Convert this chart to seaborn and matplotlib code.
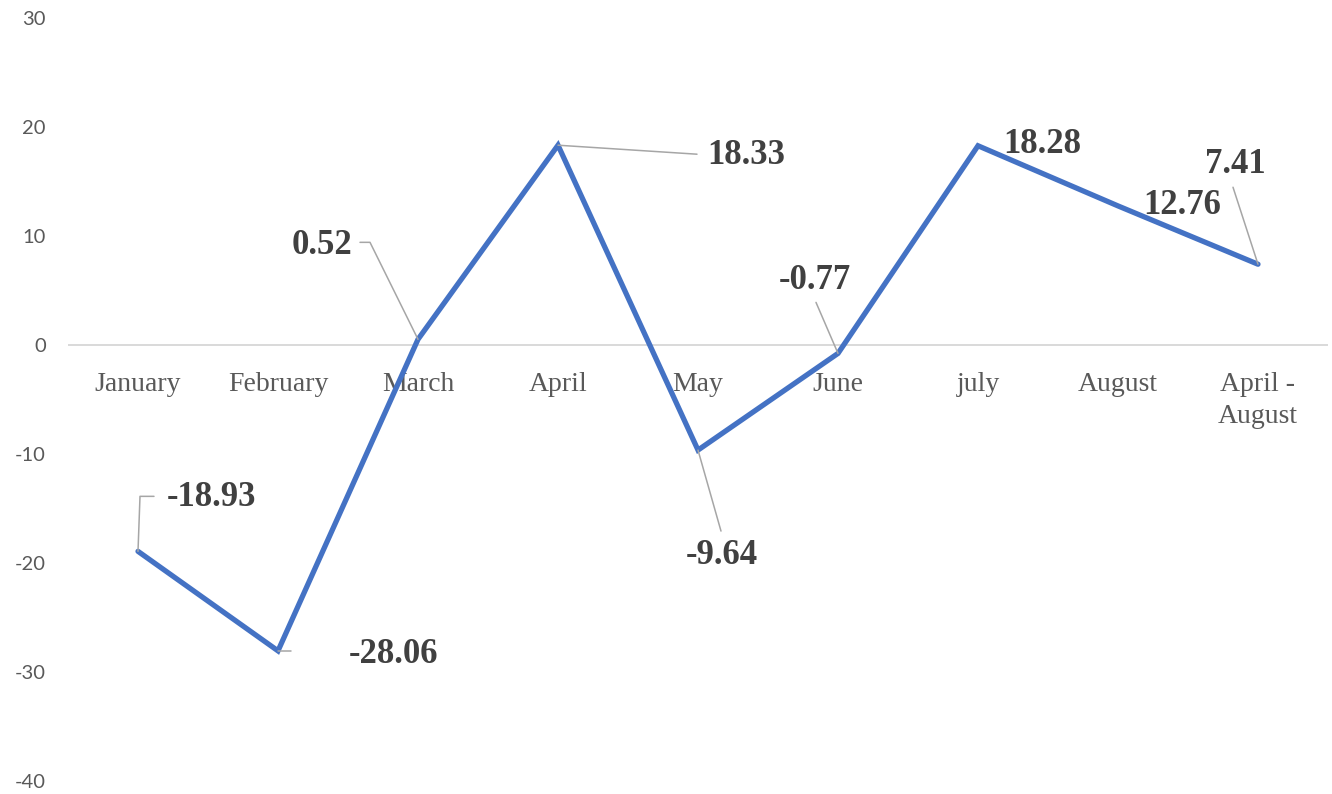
import pandas as pd
import matplotlib.pyplot as plt
from matplotlib.lines import Line2D
from matplotlib.transforms import IdentityTransform
import seaborn as sns

# Data
months = ['January', 'February', 'March', 'April', 'May', 'June', 'july', 'August', 'April -\nAugust']
values = [-18.93, -28.06, 0.52, 18.33, -9.64, -0.77, 18.28, 12.76, 7.41]
labels = ['-18.93', '-28.06', '0.52', '18.33', '-9.64', '-0.77', '18.28', '12.76', '7.41']
y_ticks = [-40, -30, -20, -10, 0, 10, 20, 30]

# Label offsets from each point (pixels) and leader line paths
label_offsets = [(74, 54), (116, -4), (-96, 94), (188, -10), (24, -105),
                 (-23, 73), (64, 1), (64, 0), (-23, 100)]
leaders = {
    0: [(0, 0), (2, 55), (16, 55)],
    1: [(0, 0), (13, 0)],
    2: [(0, 0), (-48, 97), (-58, 97)],
    3: [(0, 0), (139, -9)],
    4: [(0, 0), (23, -81)],
    5: [(0, 0), (-22, 51)],
    8: [(0, 0), (-25, 77)],
}

df = pd.DataFrame({'month': range(len(months)), 'value': values})

sns.set_style('white')
plt.rcParams['font.family'] = ['Liberation Serif', 'DejaVu Serif']

fig = plt.figure(figsize=(13.32, 7.94), dpi=100)
ax = fig.add_axes([68 / 1332, 13 / 794, 1260 / 1332, 763 / 794])

ax.axhline(0, color='#D9D9D9', lw=1.4, zorder=1)
sns.lineplot(data=df, x='month', y='value', sort=False, color='#4472C4',
             lw=3.8, solid_capstyle='round', solid_joinstyle='miter', ax=ax, zorder=3)

ax.set_xlim(-0.5, len(months) - 0.5)
ax.set_ylim(-40, 30)
ax.set_yticks(y_ticks)
ax.set_yticklabels([str(t) for t in y_ticks], family='Lato', fontsize=14.5, color='#595959')
ax.tick_params(axis='y', length=0, pad=16)
ax.set_xticks([])
ax.set_xlabel('')
ax.set_ylabel('')
for s in ax.spines.values():
    s.set_visible(False)

# category labels under the zero line
for i, m in enumerate(months):
    ax.annotate(m, xy=(i, 0), xytext=(0, -27), textcoords='offset pixels',
                ha='center', va='top', fontsize=20, color='#595959',
                linespacing=1.38, zorder=2)

# data labels
for i, (v, lab) in enumerate(zip(values, labels)):
    dx, dy = label_offsets[i]
    ax.annotate(lab, xy=(i, v), xytext=(dx, dy), textcoords='offset pixels',
                ha='center', va='center', fontsize=25, fontweight='bold',
                color='#404040', zorder=5)

# leader lines
for i, path in leaders.items():
    px, py = ax.transData.transform((i, values[i]))
    xs = [px + p[0] for p in path]
    ys = [py + p[1] for p in path]
    fig.add_artist(Line2D(xs, ys, transform=IdentityTransform(), color='#A6A6A6', lw=1.1, zorder=4))

fig.savefig('out.png', dpi=100)
